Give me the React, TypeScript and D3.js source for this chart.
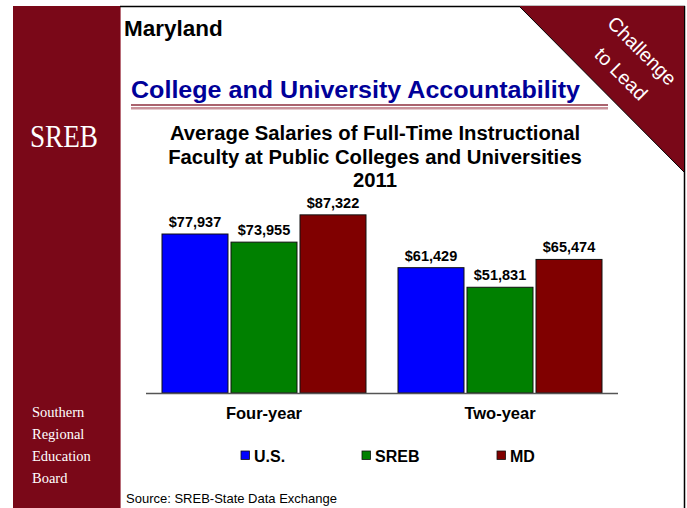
import React from "react";
import * as d3 from "d3";

const categories = ["Four-year", "Two-year"];
const seriesNames = ["U.S.", "SREB", "MD"];
const usValues = [77937, 61429];
const srebValues = [73955, 51831];
const mdValues = [87322, 65474];
const seriesColors = ["#0000ff", "#008000", "#800000"];
const titleLines = [
  "Average Salaries of Full-Time Instructional",
  "Faculty at Public Colleges and Universities",
  "2011",
];
const sideLines = ["Southern", "Regional", "Education", "Board"];

const MAROON = "#7a0818";

export default function App() {
  const seriesValues = [usValues, srebValues, mdValues];
  const x0 = d3.scaleBand<string>().domain(categories).range([146, 618]).paddingInner(0.1356).paddingOuter(0.0678);
  const x1 = d3.scaleBand<string>().domain(seriesNames).range([0, x0.bandwidth()]).paddingInner(0.0435).paddingOuter(0);
  const y = d3.scaleLinear().domain([0, 100000]).range([393, 189]);
  const fmt = d3.format("$,");
  const legendX = [241, 362, 497];
  const font = "Arial, 'Liberation Sans', sans-serif";
  const serif = "'Times New Roman', 'Liberation Serif', serif";

  return (
    <svg width={687} height={508} style={{ position: "absolute", left: 0, top: 0 }} fontFamily={font}>
      <rect x={0} y={0} width={687} height={508} fill="#fff" />
      {/* left panel */}
      <rect x={13} y={6} width={107} height={502} fill={MAROON} />
      <line x1={120.5} y1={6} x2={120.5} y2={508} stroke="#b86c78" strokeWidth={1} />
      <text x={30} y={146.5} fill="#fff" fontFamily={serif} fontSize={32} textLength={68} lengthAdjust="spacingAndGlyphs">SREB</text>
      {sideLines.map((t, i) => (
        <text key={t} x={32} y={417 + i * 22} fill="#fff" fontFamily={serif} fontSize={14.5}>{t}</text>
      ))}
      {/* top border */}
      <line x1={120} y1={6.5} x2={685} y2={6.5} stroke="#000" strokeWidth={1.5} />
      {/* right border */}
      <line x1={684.5} y1={6} x2={684.5} y2={508} stroke="#000" strokeWidth={1.5} />
      {/* corner triangle */}
      <polygon points="519,6 684,6 684,172" fill={MAROON} />
      <line x1={519} y1={6} x2={684} y2={172} stroke="#000" strokeWidth={1} />
      <g transform="translate(641,52) rotate(45)">
        <text x={0} y={0} fill="#fff" fontSize={19.5} textAnchor="middle" dominantBaseline="middle">Challenge</text>
      </g>
      <g transform="translate(620,75) rotate(45)">
        <text x={0} y={0} fill="#fff" fontSize={19.5} textAnchor="middle" dominantBaseline="middle">to Lead</text>
      </g>
      {/* headers */}
      <text x={124} y={36} fontSize={22.5} fontWeight="bold" fill="#000">Maryland</text>
      <text x={131} y={98} fontSize={23} fontWeight="bold" fill="#000099" textLength={449} lengthAdjust="spacingAndGlyphs">College and University Accountability</text>
      <line x1={131} y1={105} x2={608} y2={105} stroke="#8e2f3e" strokeWidth={1.5} />
      <line x1={131} y1={108.2} x2={608} y2={108.2} stroke="#c9939b" strokeWidth={2.5} />
      {/* chart title */}
      {titleLines.map((t, i) => (
        <text key={i} x={375} y={140 + i * 23.5} fontSize={20.3} fontWeight="bold" textAnchor="middle" fill="#000">{t}</text>
      ))}
      {/* bars */}
      {categories.map((c, ci) => (
        <g key={c} transform={`translate(${x0(c)},0)`}>
          {seriesNames.map((s, si) => {
            const v = seriesValues[si][ci];
            const bx = x1(s)!;
            return (
              <g key={s}>
                <rect x={bx} y={y(v)} width={x1.bandwidth()} height={y(0) - y(v)} fill={seriesColors[si]} stroke="#111" strokeWidth={1} />
                <text x={bx + x1.bandwidth() / 2} y={y(v) - 7} fontSize={14.5} fontWeight="bold" textAnchor="middle" fill="#000">{fmt(v)}</text>
              </g>
            );
          })}
        </g>
      ))}
      <line x1={146} y1={393.5} x2={618} y2={393.5} stroke="#555" strokeWidth={1.5} />
      {categories.map((c) => (
        <text key={c} x={x0(c)! + x0.bandwidth() / 2} y={419} fontSize={16.5} fontWeight="bold" textAnchor="middle" fill="#000">{c}</text>
      ))}
      {/* legend */}
      {seriesNames.map((s, i) => (
        <g key={s}>
          <rect x={legendX[i]} y={451} width={8.5} height={8.5} fill={seriesColors[i]} stroke="#111" strokeWidth={0.8} />
          <text x={legendX[i] + 13} y={461.5} fontSize={16} fontWeight="bold" fill="#000">{s}</text>
        </g>
      ))}
      <text x={126} y={503} fontSize={13} fill="#000">Source: SREB-State Data Exchange</text>
    </svg>
  );
}
